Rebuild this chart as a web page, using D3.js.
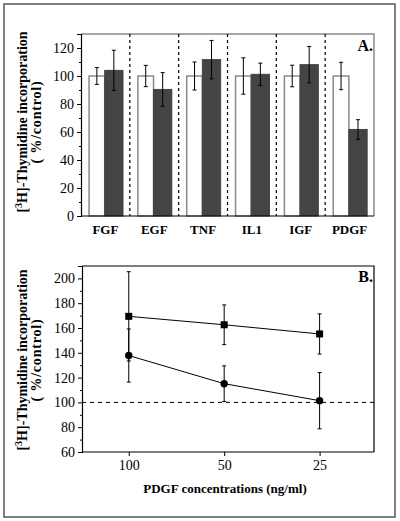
<!DOCTYPE html>
<html><head><meta charset="utf-8">
<script src="https://cdn.jsdelivr.net/npm/d3@7"></script>
<style>body{margin:0;background:#fff}svg{display:block}</style>
</head><body>
<script>
// Panel A data
const categoriesA = ["FGF","EGF","TNF","IL1","IGF","PDGF"];
const controlA = [100,100,100,100,100,100];
const controlErrA = [6,7.6,10,13,7.7,9.8];
const treatedA = [104,90.4,111.7,101.2,108.1,61.8];
const treatedErrA = [14.4,12,13.7,8,13,7];
const yTicksA = [0,20,40,60,80,100,120];

// Panel B data
const concentrationsB = ["100","50","25"];
const squareB = [169.4,162.6,155.2];
const squareErrB = [36,16,16.2];
const circleB = [137.8,115.1,101.4];
const circleErrB = [21.4,14.4,22.7];
const yTicksB = [60,80,100,120,140,160,180,200];

const W=400,H=521;
const font = '"Liberation Serif","Times New Roman",serif';
const svg = d3.select("body").append("svg").attr("width",W).attr("height",H)
  .style("font-family",font);

svg.append("rect").attr("x",4).attr("y",4).attr("width",391).attr("height",513)
  .attr("fill","none").attr("stroke","#555").attr("stroke-width",1.5);

// ---------- Panel A ----------
const A = {l:81,r:374,t:34,b:216};
const yA = d3.scaleLinear().domain([0,130]).range([A.b,A.t]);
const xA = d3.scaleBand().domain(categoriesA).range([A.l,A.r]).padding(0);
const gA = svg.append("g");

gA.append("path").attr("d",`M${A.l},${A.t}H${A.r}V${A.b}`).attr("fill","none")
  .attr("stroke","#8a8a8a").attr("stroke-width",1.5);

categoriesA.slice(1).forEach(c=>{
  gA.append("line").attr("x1",xA(c)).attr("x2",xA(c)).attr("y1",A.t).attr("y2",A.b)
    .attr("stroke","#000").attr("stroke-width",1.2).attr("stroke-dasharray","3,3");
});

const bw = xA.bandwidth();
categoriesA.forEach((c,i)=>{
  const g0 = xA(c);
  const wx0 = g0 + bw*0.165, wx1 = g0 + bw*0.485, dx1 = g0 + bw*0.86;
  gA.append("rect").attr("x",wx0).attr("y",yA(controlA[i])).attr("width",wx1-wx0)
    .attr("height",yA(0)-yA(controlA[i])).attr("fill","#fff").attr("stroke","#8a8a8a").attr("stroke-width",1.5);
  gA.append("rect").attr("x",wx1).attr("y",yA(treatedA[i])).attr("width",dx1-wx1)
    .attr("height",yA(0)-yA(treatedA[i])).attr("fill","#444").attr("stroke","#444").attr("stroke-width",1);
  const eb=(cx,v,e)=>{
    gA.append("line").attr("x1",cx).attr("x2",cx).attr("y1",yA(v+e)).attr("y2",yA(v-e)).attr("stroke","#000").attr("stroke-width",1);
    [v+e,v-e].forEach(t=>gA.append("line").attr("x1",cx-2).attr("x2",cx+2).attr("y1",yA(t)).attr("y2",yA(t)).attr("stroke","#000").attr("stroke-width",1));
  };
  eb((wx0+wx1)/2,controlA[i],controlErrA[i]);
  eb((wx1+dx1)/2,treatedA[i],treatedErrA[i]);
});

const axA = gA.append("g").attr("transform",`translate(${A.l},0)`)
  .call(d3.axisLeft(yA).tickValues(yTicksA).tickSize(4).tickPadding(3));
axA.select(".domain").attr("stroke","#000").attr("stroke-width",1.2);
axA.selectAll("text").style("font-family",font).style("font-size","14px").attr("fill","#000");
gA.append("g").attr("transform",`translate(${A.l},0)`)
  .call(d3.axisLeft(yA).tickValues(d3.range(10,130,20)).tickSize(2).tickFormat(""))
  .select(".domain").remove();
gA.append("line").attr("x1",A.l).attr("x2",A.r).attr("y1",A.b).attr("y2",A.b).attr("stroke","#000").attr("stroke-width",1.2);

categoriesA.forEach(c=>{
  gA.append("text").attr("x",xA(c)+bw*0.5).attr("y",234).attr("text-anchor","middle")
    .style("font-size","13px").style("font-weight","bold").text(c);
});
gA.append("text").attr("x",373).attr("y",51).attr("text-anchor","end")
  .style("font-size","16px").style("font-weight","bold").text("A.");

function yLabel(cy){
  const t1 = svg.append("text").attr("transform",`translate(27,${cy}) rotate(-90)`)
    .attr("text-anchor","middle").style("font-size","14px").style("font-weight","bold");
  t1.append("tspan").text("[");
  t1.append("tspan").attr("baseline-shift","super").style("font-size","10px").text("3");
  t1.append("tspan").text("H]-Thymidine incorporation");
  svg.append("text").attr("transform",`translate(41,${cy}) rotate(-90)`)
    .attr("text-anchor","middle").style("font-size","14px").style("font-weight","bold")
    .style("letter-spacing","0.8px").text("( %/control)");
}
yLabel(122);

// ---------- Panel B ----------
const B = {l:82,r:374,t:266,b:452};
const yB = d3.scaleLinear().domain([60,210]).range([B.b,B.t]);
const xB = d3.scaleLinear().domain([-0.49,2.57]).range([B.l,B.r]);
const gB = svg.append("g");
gB.append("path").attr("d",`M${B.l},${B.t}H${B.r}V${B.b}`).attr("fill","none").attr("stroke","#000").attr("stroke-width",1.2);

gB.append("line").attr("x1",B.l).attr("x2",B.r).attr("y1",yB(100)).attr("y2",yB(100))
  .attr("stroke","#000").attr("stroke-width",1).attr("stroke-dasharray","4,4");

const axB = gB.append("g").attr("transform",`translate(${B.l},0)`)
  .call(d3.axisLeft(yB).tickValues(yTicksB).tickSize(4).tickPadding(3));
axB.select(".domain").attr("stroke","#000").attr("stroke-width",1.2);
axB.selectAll("text").style("font-family",font).style("font-size","14px").attr("fill","#000");
gB.append("g").attr("transform",`translate(${B.l},0)`)
  .call(d3.axisLeft(yB).tickValues(d3.range(70,210,20)).tickSize(2).tickFormat(""))
  .select(".domain").remove();

const axBx = gB.append("g").attr("transform",`translate(0,${B.b})`)
  .call(d3.axisBottom(xB).tickValues([0,1,2]).tickSize(4).tickPadding(4).tickFormat(i=>concentrationsB[i]));
axBx.select(".domain").attr("d",`M${B.l},0H${B.r}`).attr("stroke","#000").attr("stroke-width",1.2);
axBx.selectAll("text").style("font-family",font).style("font-size","14px").attr("fill","#000");

function series(vals,errs,shape){
  const line = d3.line().x((d,i)=>xB(i)).y(d=>yB(d));
  gB.append("path").datum(vals).attr("d",line).attr("fill","none").attr("stroke","#000").attr("stroke-width",1);
  vals.forEach((v,i)=>{
    const cx=xB(i);
    gB.append("line").attr("x1",cx).attr("x2",cx).attr("y1",yB(v+errs[i])).attr("y2",yB(v-errs[i])).attr("stroke","#000").attr("stroke-width",1);
    [v+errs[i],v-errs[i]].forEach(t=>gB.append("line").attr("x1",cx-2).attr("x2",cx+2).attr("y1",yB(t)).attr("y2",yB(t)).attr("stroke","#000").attr("stroke-width",1));
    if(shape==="square") gB.append("rect").attr("x",cx-3.5).attr("y",yB(v)-3.5).attr("width",7).attr("height",7).attr("fill","#000");
    else gB.append("circle").attr("cx",cx).attr("cy",yB(v)).attr("r",3.7).attr("fill","#000");
  });
}
series(squareB,squareErrB,"square");
series(circleB,circleErrB,"circle");

gB.append("text").attr("x",373).attr("y",282).attr("text-anchor","end")
  .style("font-size","16px").style("font-weight","bold").text("B.");
gB.append("text").attr("x",225).attr("y",493).attr("text-anchor","middle")
  .style("font-size","13px").style("font-weight","bold").text("PDGF concentrations (ng/ml)");
yLabel(360);
</script>
</body></html>
